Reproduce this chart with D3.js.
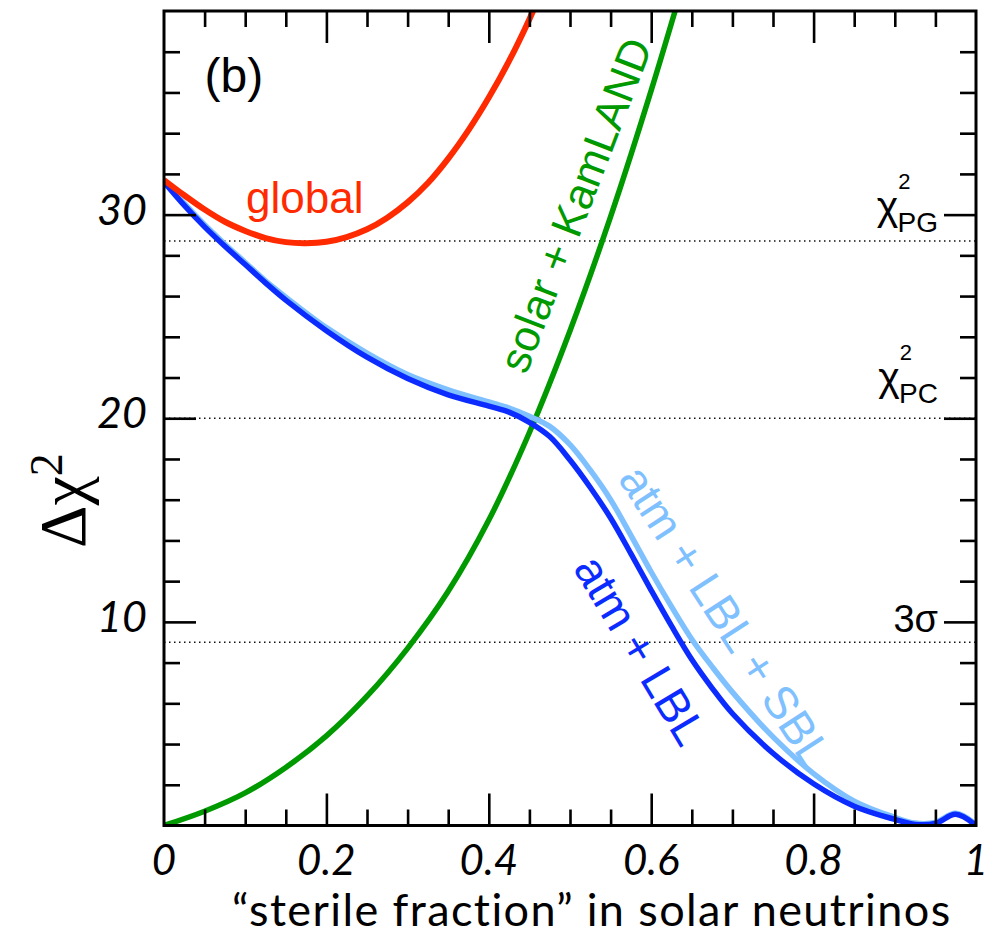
<!DOCTYPE html>
<html>
<head>
<meta charset="utf-8">
<script src="https://d3js.org/d3.v7.min.js"></script>
<style>
  body { margin: 0; background: #fff; }
  svg { display: block; }
</style>
</head>
<body>
<svg width="1007" height="936"></svg>
<script>
// **** data ****
var fracTicks = [0, 0.2, 0.4, 0.6, 0.8, 1];
var fracTickLabels = ["0", "0.2", "0.4", "0.6", "0.8", "1"];
var chiTicks = [10, 20, 30];
var chiTickLabels = ["10", "20", "30"];

var fracGlobal = [0, 0.025, 0.05, 0.075, 0.1, 0.125, 0.15, 0.175, 0.2, 0.225, 0.25, 0.275, 0.3, 0.325, 0.35, 0.375, 0.4, 0.425, 0.45, 0.475];
var chiGlobal = [31.7, 30.95, 30.25, 29.65, 29.2, 28.85, 28.65, 28.6, 28.67, 28.9, 29.28, 29.85, 30.6, 31.55, 32.75, 34.15, 35.75, 37.55, 39.6, 41.9];

var fracSolar = [0, 0.05, 0.1, 0.15, 0.2, 0.25, 0.3, 0.35, 0.4, 0.45, 0.5, 0.55, 0.6, 0.65];
var chiSolar = [0, 0.7, 1.6, 2.85, 4.4, 6.35, 8.7, 11.5, 15.0, 19.3, 24.3, 29.9, 36.1, 42.8];

var fracAtm = [0, 0.025, 0.05, 0.075, 0.1, 0.125, 0.15, 0.2, 0.25, 0.3, 0.35, 0.4, 0.425, 0.45, 0.475, 0.5, 0.525, 0.55, 0.575, 0.6, 0.625, 0.65, 0.675, 0.7, 0.75, 0.8, 0.85, 0.9, 0.925, 0.95, 0.975, 1];
var chiAtmLBL = [31.6, 30.45, 29.4, 28.45, 27.55, 26.65, 25.8, 24.3, 23.0, 21.95, 21.15, 20.6, 20.3, 19.8, 19.1, 17.95, 16.6, 15.1, 13.35, 11.55, 9.8, 8.15, 6.75, 5.5, 3.55, 2.05, 0.95, 0.3, 0.05, 0.1, 0.55, 0];
var chiAtmLBLSBL = [31.7, 30.55, 29.5, 28.55, 27.65, 26.75, 25.95, 24.45, 23.2, 22.15, 21.4, 20.8, 20.5, 20.1, 19.6, 18.7, 17.45, 16.0, 14.25, 12.45, 10.75, 9.15, 7.8, 6.55, 4.35, 2.55, 1.2, 0.4, 0.12, 0.15, 0.6, 0.05];

var refLevels = [28.7, 20, 9];

// **** scales ****
var svg = d3.select('svg');
var x = d3.scaleLinear().domain([0, 1]).range([164, 976]);
var y = d3.scaleLinear().domain([0, 40]).range([825.5, 11]);

svg.append('rect').attr('width', 1007).attr('height', 936).attr('fill', '#fff');

svg.append('clipPath').attr('id', 'plot')
    .append('rect')
    .attr('x', x(0)).attr('y', y(40))
    .attr('width', x(1) - x(0)).attr('height', y(0) - y(40));

// dotted reference lines
svg.append('g').selectAll('line')
    .data(refLevels)
    .enter().append('line')
    .attr('x1', x(0)).attr('x2', x(1))
    .attr('y1', function (d) { return y(d); })
    .attr('y2', function (d) { return y(d); })
    .attr('stroke', '#111')
    .attr('stroke-width', 1.5)
    .attr('stroke-dasharray', '1.5,3.5');

// curves
var line = d3.line()
    .x(function (d) { return x(d[0]); })
    .y(function (d) { return y(d[1]); })
    .curve(d3.curveCatmullRom.alpha(0.5));

var curves = [
    { f: fracSolar, v: chiSolar, color: '#009a00', w: 5.5 },
    { f: fracAtm, v: chiAtmLBLSBL, color: '#7fc0ff', w: 5.5 },
    { f: fracAtm, v: chiAtmLBL, color: '#0c2cff', w: 5.5 },
    { f: fracGlobal, v: chiGlobal, color: '#ff2a00', w: 6 }
];

svg.append('g').attr('clip-path', 'url(#plot)')
    .selectAll('path')
    .data(curves)
    .enter().append('path')
    .attr('d', function (c) { return line(d3.zip(c.f, c.v)); })
    .attr('fill', 'none')
    .attr('stroke', function (c) { return c.color; })
    .attr('stroke-width', function (c) { return c.w; });

// **** axes, ticks pointing inward ****
var minorX = d3.range(0, 1.0001, 0.05).filter(function (d) { return Math.abs(d * 5 - Math.round(d * 5)) > 1e-6; });
var majorX = [0.2, 0.4, 0.6, 0.8];
var minorY = d3.range(2, 40, 2).filter(function (d) { return d % 10 !== 0; });
var majorY = [10, 20, 30];

function tickAxis(axis, vals, size, tr) {
    svg.append('g')
        .attr('transform', tr)
        .call(axis.tickValues(vals).tickSize(-size).tickFormat(''))
        .call(function (g) { g.select('.domain').remove(); })
        .selectAll('line')
        .attr('stroke', '#000')
        .attr('stroke-width', 2.6);
}
[[minorX, 16], [majorX, 32]].forEach(function (t) {
    tickAxis(d3.axisBottom(x), t[0], t[1], 'translate(0,' + y(0) + ')');
    tickAxis(d3.axisTop(x), t[0], t[1], 'translate(0,' + y(40) + ')');
});
[[minorY, 16], [majorY, 32]].forEach(function (t) {
    tickAxis(d3.axisLeft(y), t[0], t[1], 'translate(' + x(0) + ',0)');
    tickAxis(d3.axisRight(y), t[0], t[1], 'translate(' + x(1) + ',0)');
});

svg.append('rect')
    .attr('x', x(0)).attr('y', y(40))
    .attr('width', x(1) - x(0)).attr('height', y(0) - y(40))
    .attr('fill', 'none').attr('stroke', '#000').attr('stroke-width', 3);

// tick labels
var tickFont = 'Lato, "Open Sans", sans-serif';
svg.append('g').selectAll('text')
    .data(fracTicks)
    .enter().append('text')
    .attr('x', function (d) { return x(d); })
    .attr('y', 875)
    .attr('text-anchor', 'middle')
    .style('font-family', tickFont)
    .style('font-style', 'italic')
    .style('font-size', '42px')
    .text(function (d, i) { return fracTickLabels[i]; });

svg.append('g').selectAll('text')
    .data(chiTicks)
    .enter().append('text')
    .attr('x', 147)
    .attr('y', function (d) { return y(d) + 10; })
    .attr('text-anchor', 'end')
    .style('font-family', tickFont)
    .style('font-style', 'italic')
    .style('font-size', '43px')
    .text(function (d, i) { return chiTickLabels[i]; });

// axis titles
svg.append('text')
    .attr('x', 232)
    .attr('y', 926)
    .style('font-family', tickFont)
    .style('font-size', '45px')
    .style('letter-spacing', '1.4px')
    .text('\u201Csterile fraction\u201D in solar neutrinos');

var yt = svg.append('text')
    .attr('transform', 'translate(85,548) rotate(-90)')
    .style('font-family', '"Liberation Serif", "DejaVu Serif", serif')
    .style('font-size', '66px');
yt.append('tspan').text('\u0394\u03C7');
yt.append('tspan').attr('dy', -23).style('font-size', '46px').text('2');

// panel label and curve labels
var labFont = '"Liberation Sans", Arial, Helvetica, sans-serif';
svg.append('text')
    .attr('x', x(0.05)).attr('y', y(36))
    .style('font-family', labFont).style('font-size', '48px')
    .text('(b)');

svg.append('text')
    .attr('x', x(0.101)).attr('y', y(30.1))
    .attr('fill', '#ff2a00')
    .style('font-family', labFont).style('font-size', '44px')
    .text('global');

function slanted(txt, fx, fy, ang, size, color) {
    svg.append('text')
        .attr('transform', 'translate(' + x(fx) + ',' + y(fy) + ') rotate(' + ang + ')')
        .attr('text-anchor', 'middle')
        .attr('fill', color)
        .style('font-family', labFont).style('font-size', size + 'px')
        .text(txt);
}
slanted('solar + KamLAND', 0.524, 30.2, -69, 44, '#009a00');
slanted('atm + LBL + SBL', 0.675, 9.85, 57, 46, '#7fc0ff');
slanted('atm + LBL', 0.570, 8.2, 59, 46, '#0c2cff');

// right side labels
function rightLabel(main, sup, sub, base) {
    var t = svg.append('text')
        .attr('x', 938).attr('y', base)
        .attr('text-anchor', 'end')
        .style('font-family', labFont);
    t.append('tspan').style('font-size', sub ? '41px' : '38px').text(main);
    if (sub) {
        t.append('tspan').attr('dy', -31).style('font-size', '22px').text(sup);
        t.append('tspan').attr('dy', 43).attr('dx', -13).style('font-size', '28px').text(sub);
    }
}
rightLabel('\u03C7', '2', 'PG', 220);
rightLabel('\u03C7', '2', 'PC', 391);
rightLabel('3\u03C3', null, null, 632);
</script>
</body>
</html>
